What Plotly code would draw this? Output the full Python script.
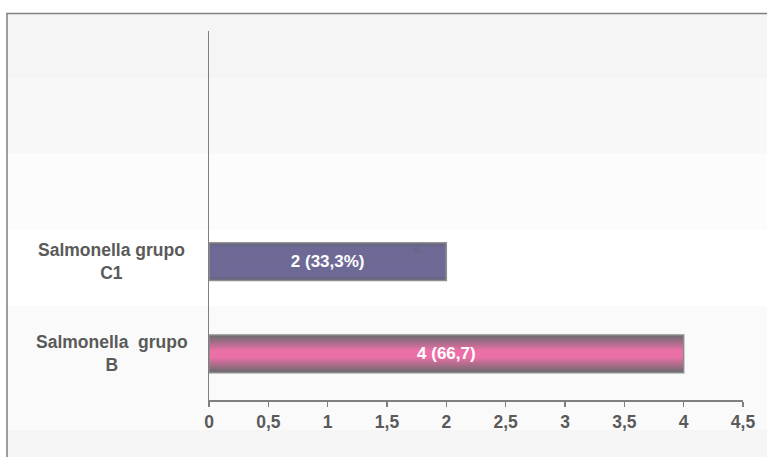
import plotly.graph_objects as go

categories = ["Salmonella grupo B", "Salmonella grupo C1"]
cat_labels = ["Salmonella\u00a0\u00a0grupo<br>B", "Salmonella grupo<br>C1"]
values = [4, 2]
bar_text = ["4 (66,7)", "2 (33,3%)"]
x_ticks = [0, 0.5, 1, 1.5, 2, 2.5, 3, 3.5, 4, 4.5]
x_tick_labels = ["0", "0,5", "1", "1,5", "2", "2,5", "3", "3,5", "4", "4,5"]


def lerp(c1, c2, t):
    return "rgb(%d,%d,%d)" % tuple(round(a + (b - a) * t) for a, b in zip(c1, c2))


W, H = 767, 457
ML, MT = 209, 31
PW, PH = 538, 369
MR = W - ML - PW
MB = H - MT - PH

FONT = "Liberation Sans, Arial, sans-serif"

fig = go.Figure()

bar_w = 0.41
edge_cols = [(108, 106, 110), (100, 98, 120)]
center_cols = [(236, 112, 168), (110, 106, 150)]
steps = 20
for k in range(steps):
    t = k / (steps - 1)
    w = bar_w * (1 - 0.85 * t)
    cols = [lerp(edge_cols[0], center_cols[0], min(1.0, t * 1.05)),
            lerp(edge_cols[1], center_cols[1], min(1.0, t * 4.0))]
    fig.add_trace(go.Bar(
        y=categories, x=values, orientation="h", width=w,
        marker=dict(color=cols, line=dict(width=0)),
        hoverinfo="skip", showlegend=False,
    ))

# outline + text
fig.add_trace(go.Bar(
    y=categories, x=values, orientation="h", width=bar_w,
    marker=dict(color="rgba(0,0,0,0)", line=dict(color=["#8c8c8c", "#909090"], width=1.5)),
    text=["<b>%s</b>" % t for t in bar_text], textposition="inside", insidetextanchor="middle",
    textfont=dict(color="white", size=17, family=FONT),
    constraintext="none",
    showlegend=False, hoverinfo="skip",
))

annotations = []
for c, lab in zip(categories, cat_labels):
    annotations.append(dict(
        x=(111 - ML) / PW, xref="paper", y=c, yref="y",
        text="<b>" + lab + "</b>", showarrow=False, align="center",
        xanchor="center", yanchor="middle",
        font=dict(size=17.5, color="#5a5a5a", family=FONT),
    ))
annotations.append(dict(
    x=1.75, y=categories[1], xref="x", yref="y", yshift=11, text="4",
    showarrow=False, font=dict(size=10, color="#66647a", family=FONT),
))


def py(p):
    return (H - MB - p) / PH


def pxx(p):
    return (p - ML) / PW


bands = [(13, 78, "#f5f5f5"), (78, 153, "#f8f8f8"), (153, 230, "#fcfcfc"),
         (230, 306, "#ffffff"), (306, 430, "#fafafa"), (430, 470, "#f5f5f5")]
shapes = []
for y0, y1, col in bands:
    shapes.append(dict(type="rect", xref="paper", yref="paper",
                       x0=pxx(5), x1=pxx(790), y0=py(y1), y1=py(y0),
                       fillcolor=col, line=dict(width=0), layer="below"))
shapes.append(dict(type="rect", xref="paper", yref="paper",
                   x0=pxx(5.5), x1=pxx(800), y0=py(490), y1=py(13.5),
                   fillcolor="rgba(0,0,0,0)", line=dict(color="#7f7f7f", width=1.5), layer="above"))

fig.update_layout(
    width=W, height=H,
    margin=dict(l=ML, r=MR, t=MT, b=MB, pad=0),
    barmode="overlay",
    paper_bgcolor="white", plot_bgcolor="rgba(0,0,0,0)",
    shapes=shapes, annotations=annotations,
    xaxis=dict(range=[0, 4.5], tickvals=x_ticks, ticktext=["<b>%s</b>" % s for s in x_tick_labels],
               showgrid=False, zeroline=False, showline=True, linecolor="#7f7f7f", linewidth=1.5,
               ticks="outside", ticklen=5, tickcolor="#7f7f7f", tickwidth=1.5,
               tickfont=dict(size=17.5, color="#5a5a5a", family=FONT), fixedrange=True),
    yaxis=dict(type="category", categoryorder="array", categoryarray=categories,
               range=[-0.5, 3.5], showgrid=False, zeroline=False, showline=True,
               linecolor="#7f7f7f", linewidth=1.5, showticklabels=False, ticks="",
               fixedrange=True),
    font=dict(family=FONT),
    hovermode=False,
)

fig.write_html("out.html", config={"displayModeBar": False, "staticPlot": True},
               post_script="document.body.style.margin='0';document.body.style.overflow='hidden';")
